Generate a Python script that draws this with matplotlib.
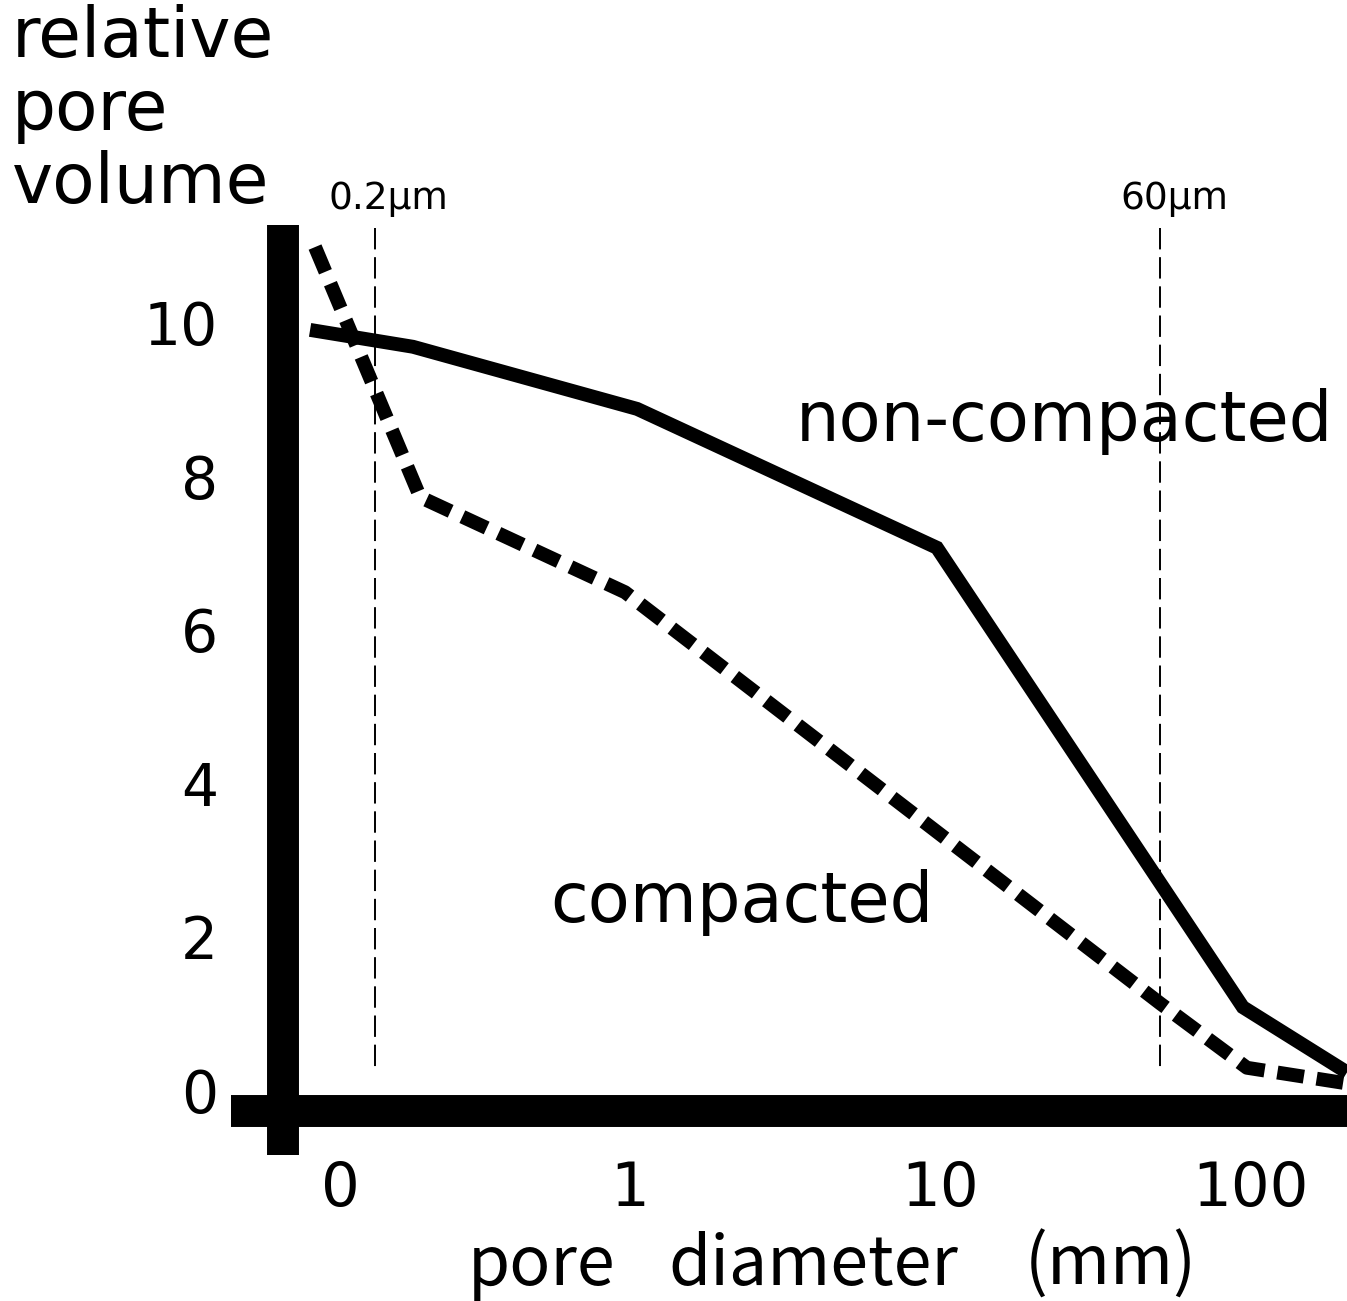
import numpy as np
import matplotlib
matplotlib.use('Agg')
import matplotlib.pyplot as plt

# positions on the pore diameter axis (1 decade per unit, tick "1" at 1)
x_ticks = [0.065, 1, 2, 3]
x_labels = ['0', '1', '10', '100']
y_ticks = [0, 2, 4, 6, 8, 10]

# non-compacted (solid)
nc_x = [-0.032, 0.300, 1.023, 1.990, 2.977, 3.313]
nc_y = [9.91, 9.69, 8.88, 7.07, 1.08, 0.23]

# compacted (dashed)
c_x = [-0.016, 0.323, 0.984, 2.710, 2.990, 3.306]
c_y = [10.99, 7.73, 6.49, 1.13, 0.29, 0.09]

# marker lines 0.2um and 60um
mark_x = [0.177, 2.710]
mark_txt = ['0.2\u03bcm', '60\u03bcm']

W, H = 1347, 1301
fig = plt.figure(figsize=(W / 100, H / 100), dpi=100)
L, R, T, B = 231, 1347, 150, 1160
ax = fig.add_axes([L / W, 1 - B / H, (R - L) / W, (B - T) / H])
ax.set_xlim((L - 630) / 310 + 1, (R - 630) / 310 + 1)
ax.set_ylim((1090 - B) / 76.7, (1090 - T) / 76.7)
for s in ax.spines.values():
    s.set_visible(False)

# thick axis bars
xbar = (283 - 630) / 310 + 1
ybar = (1090 - 1111) / 76.7
ax.plot([xbar, xbar], [(1090 - 225) / 76.7, (1090 - 1155) / 76.7], color='black',
        lw=23, solid_capstyle='butt', clip_on=False)
ax.plot(ax.get_xlim(), [ybar, ybar], color='black', lw=23, solid_capstyle='butt',
        clip_on=False)

# vertical dashed markers
for mx, mt in zip(mark_x, mark_txt):
    ax.plot([mx, mx], [(1090 - 228) / 76.7, (1090 - 1068) / 76.7], color='black',
            lw=1.4, dashes=(11, 4))
    ax.text(mx + 0.045, 11.62, mt, ha='center', va='center', fontsize=27)

ax.plot(nc_x, nc_y, color='black', lw=10, solid_joinstyle='miter',
        solid_capstyle='butt', clip_on=False)
ax.plot(c_x, c_y, color='black', lw=10, dashes=(1.93, 0.93), clip_on=False)

ax.text(1.535, 8.71, 'non-compacted', ha='left', va='center', fontsize=49.5)
ax.text(0.742, 2.45, 'compacted', ha='left', va='center', fontsize=49.5)

ax.set_xticks(x_ticks)
ax.set_xticklabels(x_labels, fontsize=44)
ax.set_yticks(y_ticks)
ax.set_yticklabels([str(v) for v in y_ticks], fontsize=42)
ax.tick_params(axis='x', length=0, pad=0)
ax.tick_params(axis='y', length=0, pad=9.4)

fig.text(12 / W, 1 - 4 / H, 'relative\npore\nvolume', ha='left', va='top',
         fontsize=50, linespacing=1.11)

# x-axis title, words placed as in the original layout
cjk = ['Noto Sans CJK JP', 'DejaVu Sans']
for word, px in zip(['pore', 'diameter', '(mm)'], [468, 668, 1025]):
    fig.text(px / W, 1 - 1285 / H, word, ha='left', va='baseline', fontsize=49,
             family=cjk)

fig.savefig('out.png', dpi=100, facecolor='white')
